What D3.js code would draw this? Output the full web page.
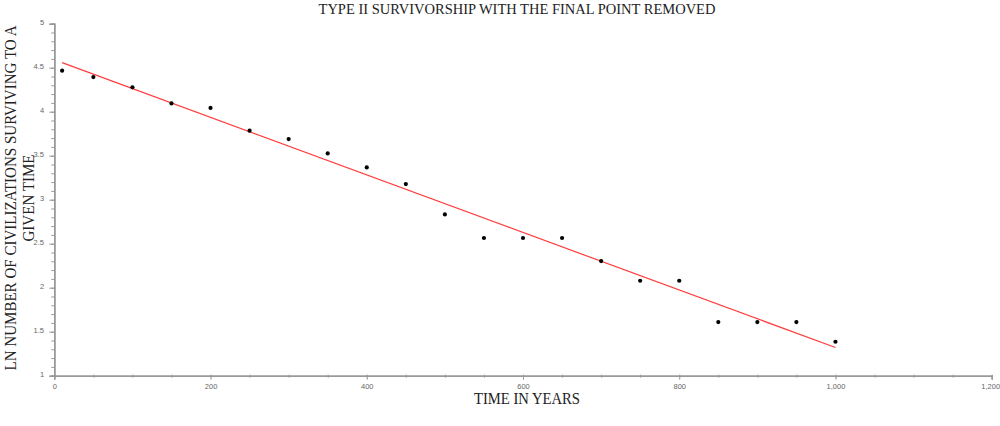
<!DOCTYPE html>
<html><head><meta charset="utf-8">
<script src="https://cdn.jsdelivr.net/npm/d3@7"></script>
<style>body{margin:0;background:#fff}svg{display:block}</style>
</head><body>
<svg id="c" width="1000" height="426"></svg>
<script>
const title = "TYPE II SURVIVORSHIP WITH THE FINAL POINT REMOVED";
const xLabel = "TIME IN YEARS";
const yLabelLines = ["LN NUMBER OF CIVILIZATIONS SURVIVING TO A", "GIVEN TIME"];
const years = [10,50,100,150,200,250,300,350,400,450,500,550,600,650,700,750,800,850,900,950,1000];
const lnSurvivors = [4.466,4.394,4.277,4.094,4.043,3.784,3.689,3.526,3.367,3.178,2.833,2.565,2.565,2.565,2.303,2.079,2.079,1.609,1.609,1.609,1.386];
const xMajorTicks = [0,200,400,600,800,1000,1200];
const yMajorTicks = [1,1.5,2,2.5,3,3.5,4,4.5,5];

const svg = d3.select("#c");
const x = d3.scaleLinear().domain([0,1200]).range([54.3,991.7]);
const y = d3.scaleLinear().domain([1,5]).range([375.7,23.7]);
const axisColor = "#999";
const fmt = d3.format(",");
const tickFont = "Liberation Sans, Arial, sans-serif";
const serif = "Liberation Serif, DejaVu Serif, serif";

// least squares fit
const n = years.length;
const mx = d3.mean(years), my = d3.mean(lnSurvivors);
let sxy=0, sxx=0;
for(let i=0;i<n;i++){sxy+=(years[i]-mx)*(lnSurvivors[i]-my); sxx+=(years[i]-mx)**2;}
const slope = sxy/sxx, icpt = my - slope*mx;

// x axis
const gx = svg.append("g").attr("transform",`translate(0,${y(1)})`);
gx.call(d3.axisBottom(x).tickValues(d3.range(0,1201,50)).tickSize(2).tickFormat(""));
gx.call(g=>g.selectAll(".tick line").attr("y1",-1));
const gx2 = svg.append("g").attr("transform",`translate(0,${y(1)})`);
gx2.call(d3.axisBottom(x).tickValues(xMajorTicks).tickSize(4).tickFormat(fmt));
[gx,gx2].forEach(g=>{g.selectAll("path").attr("stroke",axisColor).attr("stroke-width",1.5);g.selectAll("line").attr("stroke",axisColor);});
gx2.selectAll("text").attr("fill","#666").attr("font-size","7.5px").attr("font-family",tickFont).attr("dy","0.9em")
  .filter(d=>d===1200).attr("dx","-1.5");

// y axis
const gy = svg.append("g").attr("transform",`translate(${x(0)},0)`);
gy.call(d3.axisLeft(y).tickValues(d3.range(10,51).map(v=>v/10)).tickSize(3).tickFormat(""));
const gy2 = svg.append("g").attr("transform",`translate(${x(0)},0)`);
gy2.call(d3.axisLeft(y).tickValues(yMajorTicks).tickSize(5).tickFormat(d3.format("")));
[gy,gy2].forEach(g=>{g.selectAll("path").attr("stroke",axisColor).attr("stroke-width",1.5);g.selectAll("line").attr("stroke",axisColor);});
gy2.selectAll("text").attr("fill","#666").attr("font-size","7.5px").attr("font-family",tickFont).attr("dx","-0.3em").attr("dy","0.1em");

// fit line
svg.append("line")
  .attr("x1",x(years[0])).attr("y1",y(icpt+slope*years[0]))
  .attr("x2",x(years[n-1])).attr("y2",y(icpt+slope*years[n-1]))
  .attr("stroke","#ff3b3b").attr("stroke-width",1.2);

// points
svg.append("g").selectAll("circle").data(years).join("circle")
  .attr("cx",d=>x(d)).attr("cy",(d,i)=>y(lnSurvivors[i])).attr("r",2.1).attr("fill","#000");

// title
svg.append("text").attr("x",517).attr("y",13.5).attr("text-anchor","middle")
  .attr("font-family",serif).attr("font-size","14.5px").attr("fill","#222").text(title);

// x label
svg.append("text").attr("x",527).attr("y",403.5).attr("text-anchor","middle")
  .attr("font-family",serif).attr("font-size","16px").attr("fill","#222")
  .attr("textLength",106).attr("lengthAdjust","spacingAndGlyphs").text(xLabel);

// y label
const yLens = [345, 87];
const yBase = [16, 34];
yLabelLines.forEach((t,i)=>{
  svg.append("text").attr("transform",`translate(${yBase[i]},198) rotate(-90)`)
    .attr("text-anchor","middle").attr("font-family",serif).attr("font-size","16px").attr("fill","#222")
    .attr("textLength",yLens[i]).attr("lengthAdjust","spacingAndGlyphs").text(t);
});
</script>
</body></html>
